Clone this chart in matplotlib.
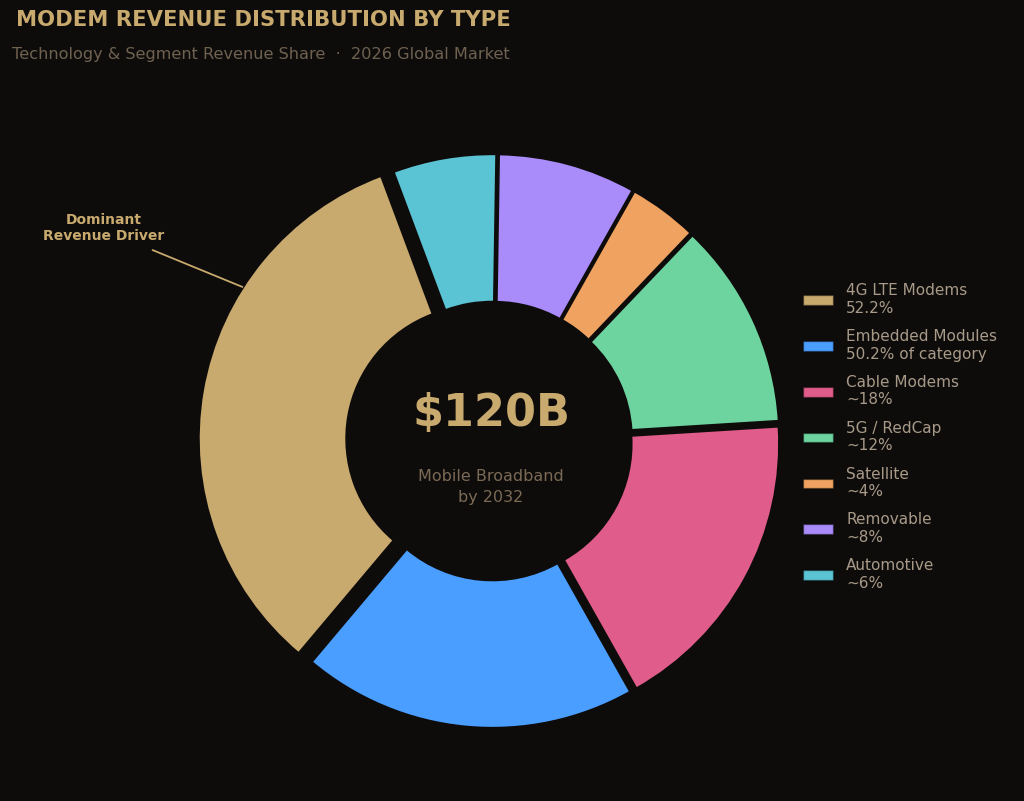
import matplotlib.pyplot as plt
from matplotlib.patches import Patch

## 数据
categories = ['4G LTE Modems', 'Embedded Modules', 'Cable Modems', '5G / RedCap',
              'Satellite', 'Removable', 'Automotive']
shares = [33.5, 19.5, 18, 12, 4, 8, 6]
legend_notes = ['52.2%', '50.2% of category', '~18%', '~12%', '~4%', '~8%', '~6%']
colors = ['#c8a96e', '#4a9eff', '#e05c8a', '#6dd4a0', '#f0a360', '#a98bfa', '#5bc4d4']

bg = '#0e0c0b'
gold = '#c8a96e'

fig = plt.figure(figsize=(10.24, 8.01), dpi=100, facecolor=bg)

# 饼图坐标轴 (中心约在 493,441 像素)
W, H = 1024, 801
size = 673
cx, cy = 493, 441
ax = fig.add_axes([(cx - size / 2) / W, (H - cy - size / 2) / H, size / W, size / H])
ax.set_facecolor(bg)

explode = [0.05, 0.023, 0.023, 0.023, 0.023, 0.023, 0.023]
wedges, _ = ax.pie(shares, colors=colors, startangle=110.5, counterclock=True,
                   explode=explode, radius=1.0,
                   wedgeprops=dict(width=0.526, edgecolor=bg, linewidth=1.4))
# pie() 会重设坐标范围，所以放在后面
ax.set_xlim(-1.2, 1.2)
ax.set_ylim(-1.2, 1.2)
ax.axis('off')

## 中心文字
fig.text(491 / W, 1 - 413 / H, '$120B', ha='center', va='center', fontsize=32,
         fontweight='bold', color=gold)
fig.text(491 / W, 1 - 487 / H, 'Mobile Broadband\nby 2032', ha='center',
         va='center', fontsize=11.5, color='#7a6a55', linespacing=1.5)

## 标注
ax.annotate('', xy=(245, H - 288), xycoords='figure pixels',
            xytext=(150, H - 249), textcoords='figure pixels',
            arrowprops=dict(arrowstyle='-', color=gold, lw=1.3),
            annotation_clip=False)
fig.text(104 / W, 1 - 228 / H, 'Dominant\nRevenue Driver', ha='center', va='center',
         fontsize=10, fontweight='bold', color=gold, linespacing=1.2)

## 标题
fig.text(16 / W, 1 - 20 / H, 'MODEM REVENUE DISTRIBUTION BY TYPE', ha='left',
         va='center', fontsize=15.25, fontweight='bold', color=gold)
fig.text(12 / W, 1 - 55 / H,
         'Technology & Segment Revenue Share  \u00b7  2026 Global Market',
         ha='left', va='center', fontsize=11.65, color='#6e6150')

## 图例
handles = [Patch(facecolor=c, edgecolor='#00000055', linewidth=1) for c in colors]
labels = [f'{n}\n{t}' for n, t in zip(categories, legend_notes)]
leg = fig.legend(handles, labels, loc='center left',
                 bbox_to_anchor=(789 / W, 1 - 437 / H), frameon=False,
                 fontsize=11, labelcolor='#a89a88', handlelength=2.0,
                 handleheight=0.6, handletextpad=0.85, labelspacing=0.88)

fig.savefig('out.png', dpi=100, facecolor=bg)
